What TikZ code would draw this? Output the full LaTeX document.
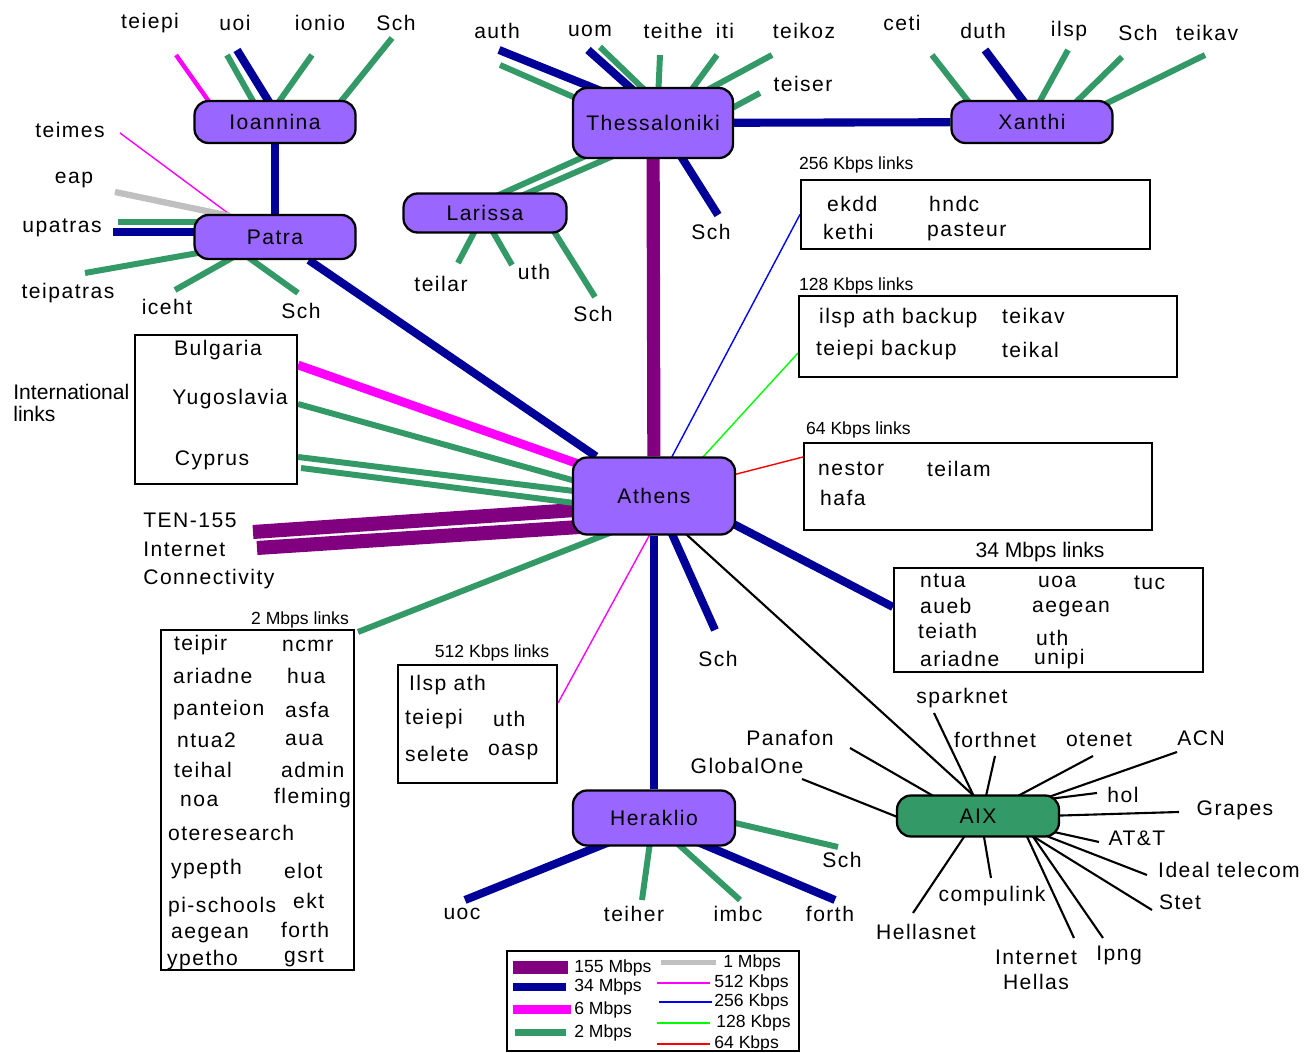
\documentclass[tikz,border=0pt]{standalone}
\usepackage{fontspec}
\setmainfont{Liberation Sans}
\newfontfamily\lblfont{Liberation Sans}[LetterSpace=7]
\usetikzlibrary{calc,positioning}
\pgfdeclarelayer{bg}
\pgfsetlayers{bg,main}

\definecolor{cityfill}{HTML}{9966FF}
\definecolor{aixfill}{HTML}{339966}
\definecolor{col155}{HTML}{800080}
\definecolor{col34}{HTML}{000099}
\definecolor{col6}{HTML}{FF00FF}
\definecolor{col2}{HTML}{339966}
\definecolor{col1}{HTML}{C0C0C0}
\definecolor{col512}{HTML}{FF00FF}
\definecolor{col256}{HTML}{0000FF}
\definecolor{col128}{HTML}{00FF00}
\definecolor{col64}{HTML}{FF0000}

\tikzset{
  city/.style={draw, line width=1.3pt, fill=cityfill, rounded corners=8pt,
    inner sep=0pt, font=\lblfont\fontsize{12}{14}\selectfont},
  lbl/.style={inner sep=1pt, font=\lblfont\fontsize{12}{14}\selectfont},
  ttl/.style={inner sep=1pt, font=\fontsize{10}{12}\selectfont},
  lbox/.style={draw, line width=1.2pt, inner sep=0pt},
  l155/.style={col155, line width=8pt},
  l34/.style={col34, line width=4.6pt},
  l6/.style={col6, line width=5pt},
  l2/.style={col2, line width=3.4pt},
  l1/.style={col1, line width=3.6pt},
  k512/.style={col512, line width=0.8pt},
  k256/.style={col256, line width=0.8pt},
  k128/.style={col128, line width=0.8pt},
  k64/.style={col64, line width=0.8pt},
  laix/.style={black, line width=1.2pt}
}

\begin{document}
\begin{tikzpicture}[x=0.02cm, y=-0.02cm]
    \useasboundingbox (0,0) rectangle (1313,1053);
    % ---- the cities
    \node[city, minimum width=3.22cm, minimum height=0.84cm] (ioa) at (275,122) {Ioannina};
    \node[city, minimum width=3.22cm, minimum height=0.88cm] (pat) at (275,237) {Patra};
    \node[city, minimum width=3.2cm, minimum height=1.4cm] (thes) at (653,123) {Thessaloniki};
    \node[city, minimum width=3.26cm, minimum height=0.78cm] (lar) at (485,213) {Larissa};
    \node[city, minimum width=3.22cm, minimum height=0.84cm] (xan) at (1032,122) {Xanthi};
    \node[city, minimum width=3.24cm, minimum height=1.54cm] (ath) at (654,496) {Athens};
    \node[city, minimum width=3.24cm, minimum height=1.1cm] (her) at (654,818) {Heraklio};
    \node[city, fill=aixfill, minimum width=3.24cm, minimum height=0.82cm] (aix) at (978,816) {AIX};
    % ---- the boxes
    \node[lbox, minimum width=3.24cm, minimum height=2.98cm] (intl) at (216,409.5) {};
    \node[lbox, minimum width=3.86cm, minimum height=6.8cm] (b2) at (257.5,800) {};
    \node[lbox, minimum width=3.18cm, minimum height=2.36cm] (b512) at (477.5,724) {};
    \node[lbox, minimum width=6.98cm, minimum height=1.38cm] (b256) at (975.5,214.5) {};
    \node[lbox, minimum width=7.56cm, minimum height=1.62cm] (b128) at (988,336.5) {};
    \node[lbox, minimum width=6.96cm, minimum height=1.74cm] (b64) at (978,486.5) {};
    \node[lbox, minimum width=6.18cm, minimum height=2.08cm] (b34) at (1048.5,620) {};
    \node[lbox, minimum width=5.84cm, minimum height=2cm] (legend) at (653,1001) {};
    % ---- end labels
    \foreach \nm/\x/\y/\txt in {teiepi/150/23/teiepi, uoi/235/23/uoi, ionio/320/23/ionio,
        schioa/396/23/Sch, teimes/70/130/teimes, eap/74/180/eap, upatras/62/228/upatras,
        teipatras/68/293/teipatras, iceht/167/307/iceht, schpat/301/311/Sch,
        auth/497/31/auth, uom/590/31/uom, teithe/673/31/teithe, iti/725/31/iti,
        teikoz/804/31/teikoz, teiser/803/84/teiser, ceti/902/23/ceti, duth/983/31/duth,
        ilsp/1069/31/ilsp, schxan/1138/33/Sch, teikav/1207/33/teikav,
        schthe/711/232/Sch, teilar/441/284/teilar, uthlar/534/272/uth, schlar/593/314/Sch,
        schath/718/659/Sch, uoc/462/914/uoc, teiher/634/914/teiher, imbc/738/914/imbc,
        forth/830/914/forth, schher/842/860/Sch,
        sparknet/962/698/sparknet, forthnet/995/740/forthnet, otenet/1099/740/otenet,
        acn/1201/738/ACN, hol/1123/795/hol, grapes/1235/810/Grapes, att/1137/838/AT\&T,
        ideal/1229/870/Ideal telecom, stet/1180/902/Stet, ipng/1119/955/Ipng,
        compulink/992/896/compulink, hellasnet/926/932/Hellasnet,
        globalone/747/766/GlobalOne, panafon/790/738/Panafon}
      \node[lbl] (l-\nm) at (\x,\y) {\txt};
    \node[lbl, align=center, font=\lblfont\fontsize{12}{14.2}\selectfont] (l-ihellas) at (1036,970) {Internet\\Hellas};
    % ---- international links
    \node[lbl] (intl-bg) at (218,350) {Bulgaria};
    \node[lbl] (intl-yu) at (230,399) {Yugoslavia};
    \node[lbl] (intl-cy) at (212,460) {Cyprus};
    \node[align=left, anchor=west, inner sep=0pt, font=\fontsize{12}{13}\selectfont] (intl-lbl) at (13,403) {International\\links};
    \node[lbl, align=left, anchor=west, inner sep=0pt, font=\lblfont\fontsize{12}{16.4}\selectfont] (ten) at (143,551) {TEN-155\\Internet\\Connectivity};
    % ---- box titles and contents
    \node[ttl] (t2) at (300,620) {2 Mbps links};
    \node[ttl] (t512) at (492,653) {512 Kbps links};
    \node[ttl, anchor=west] (t256) at (797,165) {256 Kbps links};
    \node[ttl, anchor=west] (t128) at (797,286) {128 Kbps links};
    \node[ttl, anchor=west] (t64) at (804,430) {64 Kbps links};
    \node[font=\fontsize{12}{14}\selectfont] (t34) at (1040,552) {34 Mbps links};
    \foreach \x/\y/\txt [count=\i] in {172/645/teipir, 280/646/ncmr, 171/676/ariadne, 285/676/hua,
        171/710/panteion, 283/710/asfa, 175/740/ntua2, 283/740/aua, 172/770/teihal,
        279/770/admin, 178/801/noa, 272/798/fleming, 166/833/oteresearch, 169/869/ypepth,
        282/871/elot, 166/907/pi-schools, 291/901/ekt, 169/935/aegean, 279/930/forth,
        165/960/ypetho, 282/958/gsrt}
      \node[lbl, anchor=west] (b2-\i) at (\x,\y) {\txt};
    \foreach \x/\y/\txt [count=\i] in {407/685/Ilsp ath, 403/719/teiepi, 491/719/uth,
        403/754/selete, 486/752/oasp}
      \node[lbl, anchor=west] (b512-\i) at (\x,\y) {\txt};
    \foreach \x/\y/\txt [count=\i] in {825/204/ekdd, 821/232/kethi, 927/204/hndc, 925/232/pasteur}
      \node[lbl, anchor=west] (b256-\i) at (\x,\y) {\txt};
    \foreach \x/\y/\txt [count=\i] in {817/318/ilsp ath backup, 814/350/teiepi backup,
        1000/316/teikav, 1000/350/teikal}
      \node[lbl, anchor=west] (b128-\i) at (\x,\y) {\txt};
    \foreach \x/\y/\txt [count=\i] in {816/469/nestor, 818/498/hafa, 925/469/teilam}
      \node[lbl, anchor=west] (b64-\i) at (\x,\y) {\txt};
    \foreach \x/\y/\txt [count=\i] in {918/581/ntua, 918/606/aueb, 916/631/teiath,
        918/659/ariadne, 1036/582/uoa, 1030/609/aegean, 1034/638/uth, 1032/659/unipi,
        1132/583/tuc}
      \node[lbl, anchor=west] (b34-\i) at (\x,\y) {\txt};
    % ---- legend
    \fill[col155] (513,961.5) rectangle (568,974.5);
    \fill[col34] (513,983) rectangle (566,991);
    \fill[col6] (513,1005.5) rectangle (571,1014.5);
    \fill[col2] (515,1029.5) rectangle (566,1036.5);
    \fill[col1] (661,960.5) rectangle (716,965.5);
    \draw[k512] (657,983) -- (710,983);
    \draw[k256] (659,1002) -- (712,1002);
    \draw[k128] (657,1023) -- (710,1023);
    \draw[k64] (657,1044) -- (710,1044);
    \foreach \x/\y/\txt [count=\i] in {574/968/155 Mbps, 574/987/34 Mbps, 574/1010/6 Mbps,
        574/1033/2 Mbps, 723/963/1 Mbps, 714/983/512 Kbps, 714/1002/256 Kbps,
        716/1023/128 Kbps, 714/1044/64 Kbps}
      \node[ttl, anchor=west, inner sep=0pt] (leg-\i) at (\x,\y) {\txt};
    % ---- the links, under the nodes
    \begin{pgfonlayer}{bg}
      \foreach \st/\ex/\ey/\cty/\dx/\dy [count=\i] in {
          l2/227/55/ioa/-17/-12, l34/237/50/ioa/-1/-12, l2/312/55/ioa/-2/-12,
          l2/392/38/ioa/59/-12,
          k512/120/133/pat/-35/-15, l1/115/192/pat/-45/-21, l2/118/222/pat/-60/-15,
          l34/113/232/pat/-60/-5, l2/85/273/pat/-60/13, l2/175/290/pat/-29/13,
          l2/298/293/pat/-37/13,
          l34/499/50/thes/-42/-28, l2/500/65/thes/-52/-14, l34/588/50/thes/-9/-23,
          l2/600/47/thes/2/-23, l2/660/55/thes/5/-23, l2/717/55/thes/31/-23,
          l2/772/55/thes/45/-28, l2/760/93/thes/68/-9, l34/718/215/thes/24/27,
          l2/458/263/lar/-7/12, l2/512/265/lar/4/12, l2/595/297/lar/65/12,
          l2/932/55/xan/-57/-12, l34/985/50/xan/-2/-12, l2/1068/50/xan/3/-12,
          l2/1122/57/xan/36/-12, l2/1205/55/xan/63/-13,
          l155/253/532/ath/-64/13, l155/257/548/ath/-59/30, l34/715/630/ath/14/29,
          l34/465/900/her/-27/17, l2/642/900/her/-3/17, l2/740/900/her/14/17,
          l34/835/900/her/27/17, l2/838/847/her/66/1.5,
          laix/934/713/aix/0/-11, laix/995/756/aix/6/-11, laix/1093/756/aix/23/-11,
          laix/1177/752/aix/62/-16, laix/1097/793/aix/67/-16.5, laix/1179/812/aix/67/0,
          laix/1099/842/aix/67/14, laix/1147/875/aix/62/17.5, laix/1152/910/aix/48/16,
          laix/1103/938/aix/49/12, laix/1074/938/aix/45/12, laix/991/878/aix/4.5/12,
          laix/913/913/aix/-8/12, laix/802/779/aix/-68/6, laix/850/748/aix/-29/-11}
        {
        \coordinate (f\i) at (\ex,\ey);
        \draw[\st] (f\i) -- ($(\cty)+(\dx,\dy)$);
        }
      \coordinate (f-teiepi) at (176,55);
      \draw[l6, line width=2.5pt] (f-teiepi) -- ($(ioa)+(-60,-12)$);
      % backbone
      \draw[l34] (ioa) -- (pat);
      \draw[l34] (pat) -- (ath);
      \draw[l34] (thes) -- (xan);
      \draw[l155, line width=7.5pt] (thes) -- (ath);
      \draw[l2] ($(thes)+(-54,27)$) -- ($(lar)+(-4,-10)$);
      \draw[l2] ($(thes)+(-26,27)$) -- ($(lar)+(20,-10)$);
      \draw[l34, line width=5pt] (ath) -- (her);
      \draw[laix] ($(ath)+(22,29)$) -- ($(aix)+(6,-11)$);
      % athens to the boxes
      \draw[l34] ($(ath)+(66,21)$) -- ($(b34.west)+(0,-13)$);
      \draw[k256] ($(ath)+(12,-28)$) -- (b256.west);
      \draw[k128] ($(ath)+(39,-28)$) -- ($(b128.west)+(0,16.5)$);
      \draw[k64] ($(ath)+(71,-19)$) -- ($(b64.west)+(0,-29.5)$);
      \draw[l6] ($(intl.east)+(0,-44.5)$) -- ($(ath)+(-64,-28)$);
      \draw[l2] ($(intl.east)+(0,-5.5)$) -- ($(ath)+(-64,-11)$);
      \draw[l2] ($(intl.east)+(0,47.5)$) -- ($(ath)+(-64,-3)$);
      \draw[l2] ($(intl.east)+(3,58.5)$) -- ($(ath)+(-64,9)$);
      \draw[l2] ($(b2.north east)+(3,3)$) -- ($(ath)+(-24,29)$);
      \draw[k512] ($(b512.east)+(0,-21)$) -- ($(ath)+(1,29)$);
    \end{pgfonlayer}
  \end{tikzpicture}
\end{document}
